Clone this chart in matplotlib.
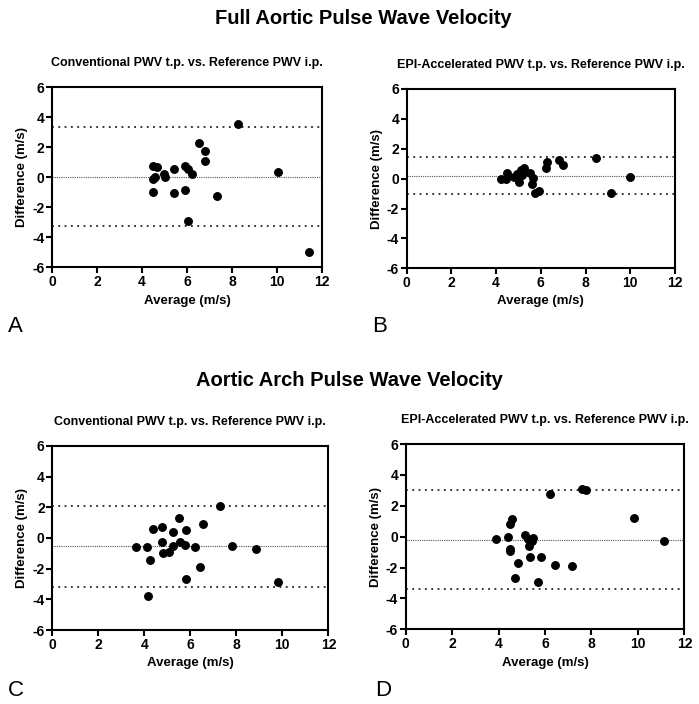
import matplotlib.pyplot as plt

plt.rcParams['font.family'] = ['Liberation Sans', 'DejaVu Sans']
plt.rcParams['axes.unicode_minus'] = False

# panel A: conventional vs reference, full aorta
a_avg = [4.49, 4.68, 4.47, 4.57, 4.5, 4.98, 5.03, 5.42, 5.44, 5.91, 5.93, 6.07, 6.21, 6.06,
         6.52, 6.79, 6.80, 7.32, 8.26, 10.05, 11.45]
a_diff = [0.76, 0.67, -0.12, 0.0, -0.96, 0.2, 0.02, 0.56, -1.04, 0.78, -0.84, 0.53, 0.22, -2.89,
          2.27, 1.78, 1.09, -1.22, 3.56, 0.36, -4.96]
a_lines = [3.33, 0.05, -3.24]

# panel B: EPI-accelerated vs reference, full aorta
b_avg = [4.2, 4.44, 4.47, 4.8, 4.92, 5.0, 5.03, 5.1, 5.25, 5.14, 5.52, 5.64, 5.59, 5.74, 5.9,
         6.23, 6.28, 6.81, 7.0, 8.47, 9.12, 9.99]
b_diff = [0.0, 0.0, 0.36, 0.13, 0.29, 0.02, -0.2, 0.58, 0.71, 0.25, 0.4, 0.07, -0.36, -0.94, -0.83,
          0.69, 1.09, 1.25, 0.91, 1.36, -0.98, 0.11]
b_lines = [1.45, 0.15, -1.05]

# panel C: conventional vs reference, aortic arch
c_avg = [3.65, 4.1, 4.25, 4.38, 4.17, 4.78, 4.75, 4.8, 5.09, 5.23, 5.26, 5.51, 5.54, 5.75, 5.81,
         5.8, 6.22, 6.42, 6.54, 7.28, 7.8, 8.84, 9.8]
c_diff = [-0.59, -0.57, -1.41, 0.57, -3.78, 0.74, -0.24, -0.98, -0.89, -0.52, 0.37, 1.28, -0.24,
          -0.43, 0.5, -2.67, -0.57, -1.87, 0.93, 2.09, -0.52, -0.74, -2.87]
c_lines = [2.11, -0.54, -3.2]

# panel D: EPI-accelerated vs reference, aortic arch
d_avg = [3.89, 4.41, 4.51, 4.49, 4.51, 4.59, 4.82, 4.72, 5.14, 5.27, 5.31, 5.35, 5.47, 5.43, 5.68,
         5.84, 6.23, 6.43, 7.15, 7.61, 7.75, 9.83, 11.11]
d_diff = [-0.13, -0.02, 0.82, -0.78, -0.93, 1.14, -1.7, -2.7, 0.09, -0.13, -0.6, -1.29, -0.11,
          -0.28, -2.91, -1.32, 2.74, -1.83, -1.88, 3.09, 3.0, 1.19, -0.28]
d_lines = [3.0, -0.24, -3.4]

titles = ['Conventional PWV t.p. vs. Reference PWV i.p.',
          'EPI-Accelerated PWV t.p. vs. Reference PWV i.p.',
          'Conventional PWV t.p. vs. Reference PWV i.p.',
          'EPI-Accelerated PWV t.p. vs. Reference PWV i.p.']
letters = ['A', 'B', 'C', 'D']

fig = plt.figure(figsize=(6.99, 7.04), dpi=100)

boxes = [[0.0744, 0.6203, 0.386, 0.2557],
         [0.5818, 0.6189, 0.3838, 0.2547],
         [0.0748, 0.1051, 0.395, 0.2614],
         [0.5804, 0.1061, 0.3986, 0.2632]]
data = [(a_avg, a_diff, a_lines), (b_avg, b_diff, b_lines),
        (c_avg, c_diff, c_lines), (d_avg, d_diff, d_lines)]
letter_pos = [(0.011, 0.528), (0.533, 0.528), (0.011, 0.011), (0.537, 0.011)]

for i in range(4):
    ax = fig.add_axes(boxes[i])
    x, y, lines = data[i]
    ax.plot(x, y, 'o', color='black', ms=5.4, zorder=3)
    ax.axhline(lines[0], color='#222222', ls=(0, (1, 2.5)), lw=1.3)
    ax.axhline(lines[1], color='#555555', ls=(0, (1, 1)), lw=0.8)
    ax.axhline(lines[2], color='#222222', ls=(0, (1, 2.5)), lw=1.3)
    ax.set_xlim(0, 12)
    ax.set_ylim(-6, 6)
    ax.set_xticks(range(0, 13, 2))
    ax.set_yticks(range(-6, 7, 2))
    for s in ax.spines.values():
        s.set_linewidth(1.5)
    ax.tick_params(direction='out', length=4, width=1.5, labelsize=10, pad=1.5)
    for lab in ax.get_xticklabels() + ax.get_yticklabels():
        lab.set_fontweight('bold')
    ax.set_xlabel('Average (m/s)', fontsize=9.5, fontweight='bold', labelpad=4)
    ax.set_ylabel('Difference (m/s)', fontsize=9.5, fontweight='bold', labelpad=3)
    ax.set_title(titles[i], fontsize=9, fontweight='bold', pad=15)
    fig.text(letter_pos[i][0], letter_pos[i][1], letters[i], fontsize=16)

fig.text(0.52, 0.974, 'Full Aortic Pulse Wave Velocity', ha='center', va='center',
         fontsize=14.5, fontweight='bold')
fig.text(0.5, 0.459, 'Aortic Arch Pulse Wave Velocity', ha='center', va='center',
         fontsize=14.5, fontweight='bold')

plt.savefig('out.png', dpi=100)
